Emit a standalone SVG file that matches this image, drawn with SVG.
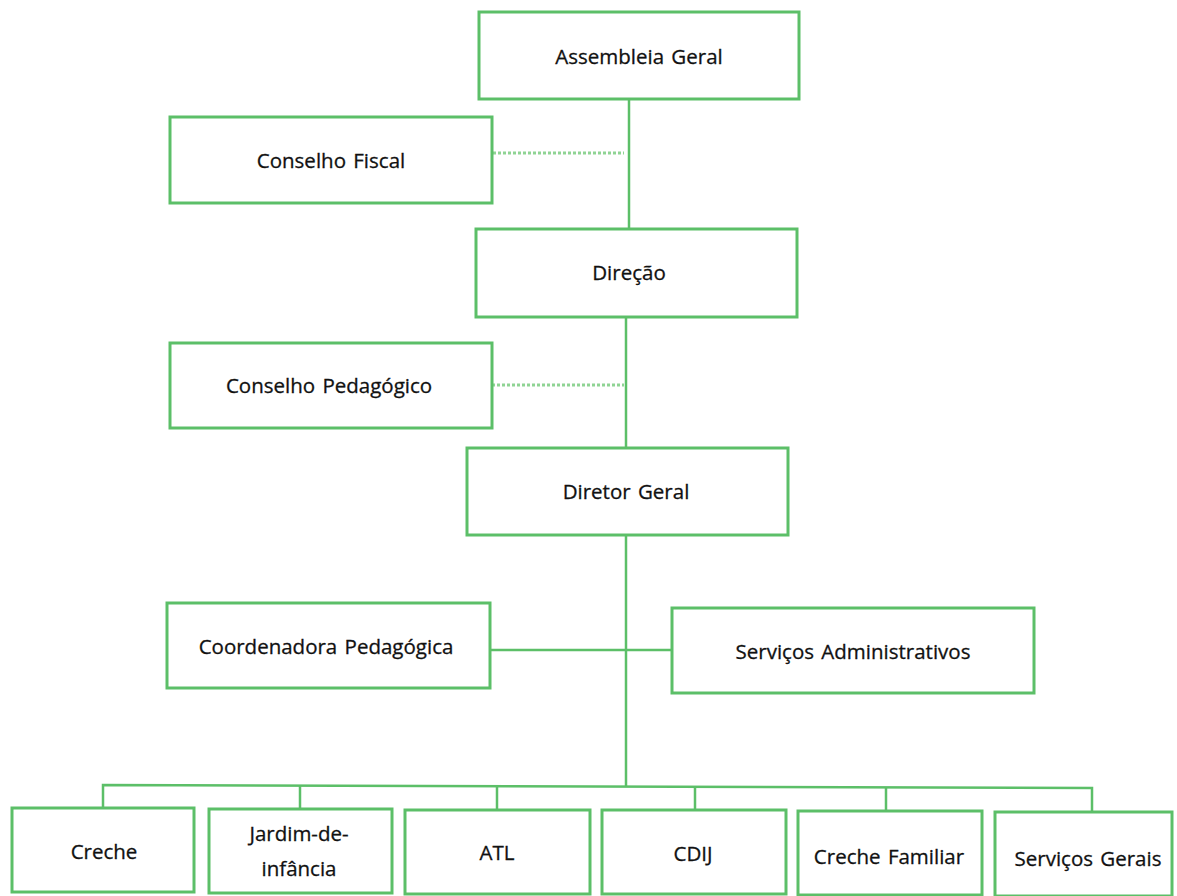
<svg xmlns="http://www.w3.org/2000/svg" width="1177" height="896" viewBox="0 0 1177 896">
<style>
.box{fill:#fff;stroke:#5cbf68;stroke-width:3}
.ln{fill:none;stroke:#5cbf68;stroke-width:2.5}
.dot{fill:none;stroke:#8fd494;stroke-width:3;stroke-dasharray:3 2}
text{font-family:"Open Sans","Liberation Sans",sans-serif;font-size:20.5px;fill:#111;text-anchor:middle;word-spacing:2px;stroke:#111;stroke-width:0.3}
</style>
<rect width="1177" height="896" fill="#fff"/>
<g id="connectors">
<line class="ln" x1="629" y1="99" x2="629" y2="229"/>
<line class="dot" x1="493" y1="153" x2="624" y2="153"/>
<line class="ln" x1="626" y1="317" x2="626" y2="448"/>
<line class="dot" x1="492" y1="385" x2="624" y2="385"/>
<line class="ln" x1="626" y1="535" x2="626" y2="786"/>
<line class="ln" x1="490" y1="650" x2="672" y2="650"/>
<polyline class="ln" points="103,808 103,785 1092,788 1092,812"/>
<line class="ln" x1="300" y1="785" x2="300" y2="809"/>
<line class="ln" x1="497" y1="786" x2="497" y2="810"/>
<line class="ln" x1="695" y1="786" x2="695" y2="810"/>
<line class="ln" x1="886" y1="787" x2="886" y2="811"/>
</g>
<g id="assembleia"><rect class="box" x="479" y="12" width="320" height="87"/><text x="639" y="64">Assembleia Geral</text></g>
<g id="conselho-fiscal"><rect class="box" x="170" y="117" width="322" height="86"/><text x="331" y="168">Conselho Fiscal</text></g>
<g id="direcao"><rect class="box" x="476" y="229" width="321" height="88"/><text x="629" y="280">Direção</text></g>
<g id="conselho-pedagogico"><rect class="box" x="170" y="343" width="322" height="85"/><text x="329" y="393">Conselho Pedagógico</text></g>
<g id="diretor-geral"><rect class="box" x="467" y="448" width="321" height="87"/><text x="626" y="499">Diretor Geral</text></g>
<g id="coordenadora"><rect class="box" x="167" y="603" width="323" height="85"/><text x="326" y="654">Coordenadora Pedagógica</text></g>
<g id="servicos-admin"><rect class="box" x="672" y="608" width="362" height="85"/><text x="853" y="659">Serviços Administrativos</text></g>
<g id="creche"><rect class="box" x="12" y="808" width="182" height="84"/><text x="104" y="859">Creche</text></g>
<g id="jardim"><rect class="box" x="209" y="809" width="183" height="84"/><text x="299" y="841">Jardim-de-</text><text x="299" y="876">infância</text></g>
<g id="atl"><rect class="box" x="405" y="810" width="185" height="84"/><text x="497" y="860">ATL</text></g>
<g id="cdij"><rect class="box" x="602" y="810" width="184" height="84"/><text x="693" y="861">CDIJ</text></g>
<g id="creche-familiar"><rect class="box" x="798" y="811" width="184" height="84"/><text x="889" y="864">Creche Familiar</text></g>
<g id="servicos-gerais"><rect class="box" x="995" y="812" width="177" height="84"/><text x="1088" y="866">Serviços Gerais</text></g>
</svg>
